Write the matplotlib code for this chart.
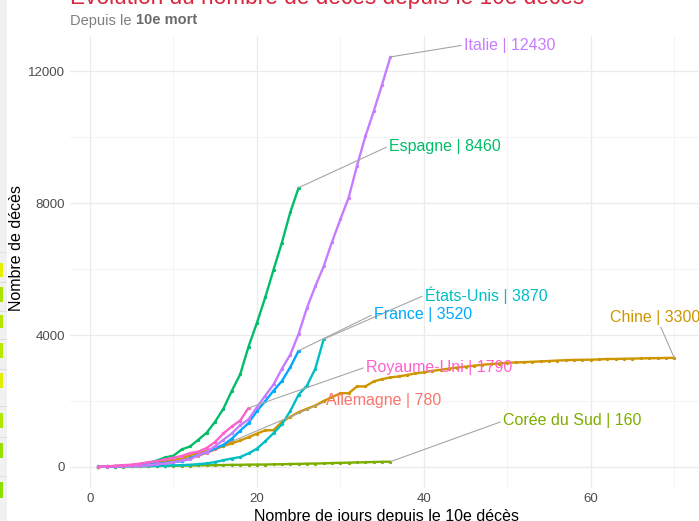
import matplotlib
matplotlib.use("Agg")
import matplotlib.pyplot as plt
from matplotlib.patches import Rectangle
import numpy as np

plt.rcParams['font.family'] = ['Liberation Sans', 'DejaVu Sans']

# ---------------- data ----------------
countries = ["Allemagne", "Chine", "Corée du Sud", "Espagne", "États-Unis",
             "France", "Italie", "Royaume-Uni"]
colors = ["#F8766D", "#CD9600", "#7CAE00", "#00BE67", "#00BFC4",
          "#00A9FF", "#C77CFF", "#FF61CC"]

allemagne = [11, 17, 24, 28, 44, 67, 84, 94, 123, 157, 206, 267, 342, 433, 533, 645, 775]
chine = [17, 18, 26, 42, 56, 82, 131, 133, 171, 213,
         259, 361, 425, 490, 562, 632, 717, 804, 904, 1011,
         1111, 1116, 1368, 1520, 1662, 1765, 1863, 2002, 2114, 2236,
         2236, 2441, 2443, 2593, 2663, 2715, 2744, 2788, 2835,
         2870, 2912, 2945, 2981, 3013, 3042, 3070, 3097, 3120, 3136,
         3158, 3169, 3176, 3189, 3199, 3213, 3226, 3237, 3245, 3249,
         3253, 3259, 3274, 3274, 3281, 3285, 3291, 3296, 3299, 3304, 3308]
coree = [10, 12, 13, 13, 16,
         17, 28, 28, 35, 35, 42, 44, 50, 53, 54, 60, 66, 66, 72, 75,
         75, 81, 84, 91, 94, 102, 104, 111, 120, 126, 131, 139, 144, 152, 158, 162]
espagne = [10, 17, 28, 35, 54, 55, 133, 195, 289, 342, 533, 623, 830, 1043, 1375,
           1772, 2311, 2808, 3647, 4365, 5138, 5982, 6803, 7716, 8464]
etats_unis = [11, 12, 15, 19, 22, 26, 30, 38, 41, 48, 57, 68, 86, 109, 150,
              207, 256, 302, 414, 555, 780, 1027, 1295, 1695, 2191, 2467, 2978, 3873]
france = [16, 19, 25, 33, 48, 61, 79, 91, 127, 148, 175, 264, 372, 450, 562,
          674, 860, 1100, 1331, 1696, 1995, 2314, 2606, 3024, 3523]
italie = [11, 12, 17, 21, 29, 34, 52, 79, 107, 148, 197, 233, 366, 463, 631,
          827, 1016, 1266, 1441, 1809, 2158, 2503, 2978, 3405, 4032, 4825, 5476,
          6077, 6820, 7503, 8165, 9134, 10023, 10779, 11591, 12428]
royaume_uni = [10, 21, 35, 55, 71, 104, 144, 177, 233, 281, 335, 422, 465, 578,
               759, 1019, 1228, 1408, 1789]

series = [allemagne, chine, coree, espagne, etats_unis, france, italie, royaume_uni]

labels = ["Allemagne | 780", "Chine | 3300", "Corée du Sud | 160", "Espagne | 8460",
          "États-Unis | 3870", "France | 3520", "Italie | 12430", "Royaume-Uni | 1790"]

x_ticks = [0, 20, 40, 60]
y_ticks = [0, 4000, 8000, 12000]

# ---------------- figure ----------------
W, H = 699, 521
fig = plt.figure(figsize=(W / 100, H / 100), dpi=100)
fig.patch.set_facecolor("white")

# left screenshot strip
fig.patches.append(Rectangle((0, 0), 7 / W, 1, transform=fig.transFigure,
                             facecolor="#f1f1f1", edgecolor="none", zorder=0))
strip_marks = [(263, 277), (287, 302), (315, 328), (343, 358), (373, 388),
               (413, 428), (443, 458), (482, 498)]
strip_cols = ["#e6f000", "#a8e400", "#b4e600", "#b8ea00", "#e0ee00",
              "#b0e600", "#98e000", "#8ee000"]
for (a, b), c in zip(strip_marks, strip_cols):
    fig.patches.append(Rectangle((0, 1 - b / H), 2.5 / W, (b - a) / H,
                                 transform=fig.transFigure, facecolor=c,
                                 edgecolor="none", zorder=1))
for yy in [253, 283, 312, 340, 370, 407, 438, 477]:
    fig.patches.append(Rectangle((0, 1 - yy / H), 7 / W, 1 / H,
                                 transform=fig.transFigure, facecolor="#dddddd",
                                 edgecolor="none", zorder=1))

left_px, right_px, top_px, bottom_px = 69.5, 703.0, 36.4, 487.5
ax = fig.add_axes([left_px / W, 1 - bottom_px / H,
                   (right_px - left_px) / W, (bottom_px - top_px) / H])
ax.set_facecolor("white")

ax.set_xlim(-2.45, 73.45)
ax.set_ylim(-621.4, 13049.4)

ax.set_xticks(x_ticks)
ax.set_yticks(y_ticks)
ax.set_xticks([10, 30, 50, 70], minor=True)
ax.set_yticks([2000, 6000, 10000], minor=True)
ax.grid(which="major", color="#EBEBEB", lw=0.9)
ax.grid(which="minor", color="#F3F3F3", lw=0.6)
ax.set_axisbelow(True)
for s in ax.spines.values():
    s.set_visible(False)
ax.tick_params(which="both", length=0)
ax.tick_params(axis="x", labelsize=9.5, labelcolor="#4D4D4D", pad=4)
ax.tick_params(axis="y", labelsize=9.5, labelcolor="#4D4D4D", pad=3)

ax.set_xlabel("Nombre de jours depuis le 10e décès", fontsize=11.5, color="black", labelpad=3)
ax.set_ylabel("Nombre de décès", fontsize=11.5, color="black")
ax.yaxis.set_label_coords((24.0 - left_px) / (right_px - left_px), 0.53)

for vals, col in zip(series, colors):
    days = np.arange(1, len(vals) + 1)
    ax.plot(days, vals, color=col, lw=1.7, marker="o", ms=2.4,
            markeredgewidth=0, solid_capstyle="round", zorder=3)

# label positions (pixel-based layout), relpos for segment attachment
def px2data(px, py):
    return ((px - 90) / 8.346, (467 - py) / 0.033)

label_layout = {
    "Allemagne": (326, 400, (0, 0.4)),
    "Chine": (610, 317, (0.55, 0)),
    "Corée du Sud": (503, 421, (0, 0.5)),
    "Espagne": (389, 146, (0, 0.5)),
    "États-Unis": (425, 295, (0, 0.5)),
    "France": (374, 314, (0, 0.5)),
    "Italie": (464, 45, (0, 0.5)),
    "Royaume-Uni": (366, 367, (0, 0.5)),
}

for name, vals, col, lab in zip(countries, series, colors, labels):
    px, py, rel = label_layout[name]
    tx, ty = px2data(px, py)
    ax.annotate(lab, xy=(len(vals), vals[-1]), xytext=(tx, ty),
                textcoords="data", ha="left", va="center", fontsize=11.5,
                color=col, zorder=5, annotation_clip=False,
                arrowprops=dict(arrowstyle="-", color="#A6A6A6", lw=0.8,
                                shrinkA=0, shrinkB=0, relpos=rel))

# title & subtitle
fig.text(70 / W, 1 - 4 / H, "Évolution du nombre de décès depuis le 10e décès",
         fontsize=16.3, color="#D7263D", ha="left", va="baseline")
t1 = fig.text(70 / W, 1 - 24.5 / H, "Depuis le ", fontsize=10.5, color="#7F7F7F",
              ha="left", va="baseline")
fig.canvas.draw()
bb = t1.get_window_extent()
fig.text(bb.x1 / W, 1 - 24.5 / H, "10e mort", fontsize=10.5, color="#6B6B6B",
         fontweight="bold", ha="left", va="baseline")

fig.savefig("out.png", dpi=100)
